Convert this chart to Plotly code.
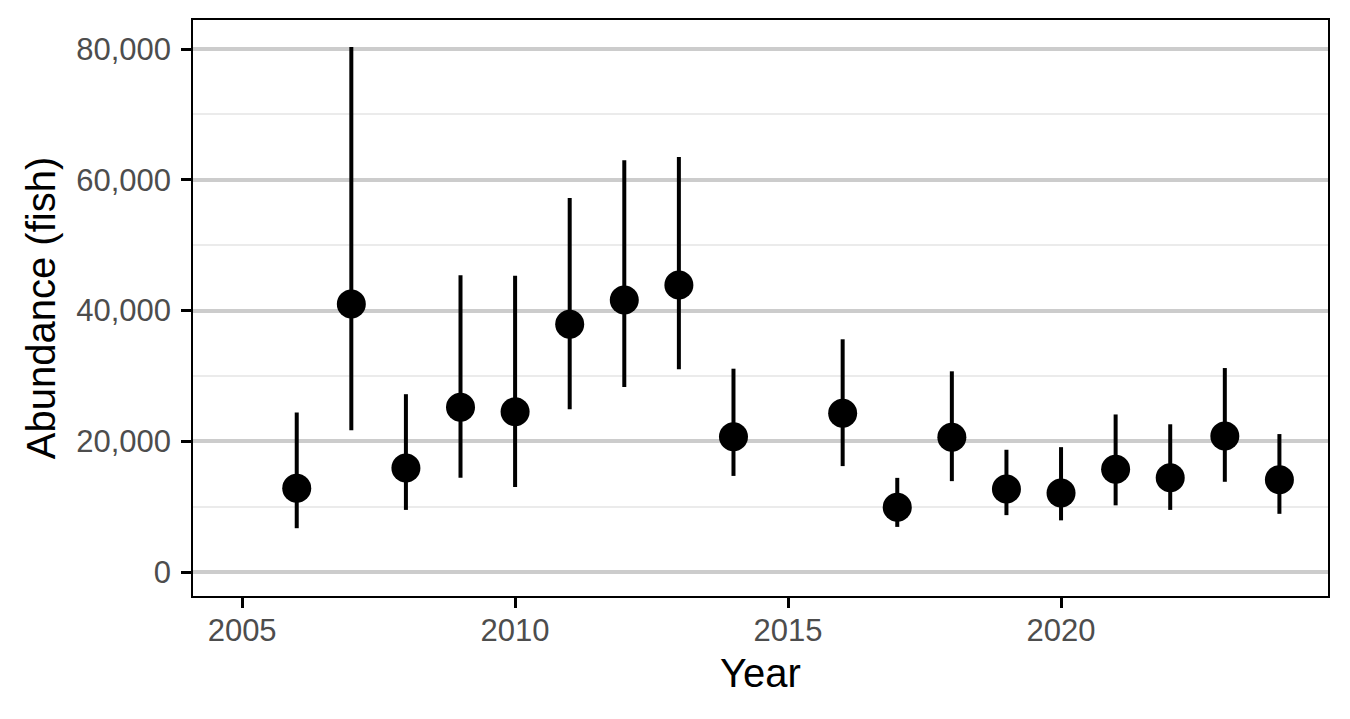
import plotly.graph_objects as go

years = [2006, 2007, 2008, 2009, 2010, 2011, 2012, 2013, 2014, 2016,
         2017, 2018, 2019, 2020, 2021, 2022, 2023, 2024]
abundance = [12800, 41000, 15900, 25200, 24500, 37900, 41600, 43900, 20700, 24300,
             9900, 20600, 12700, 12100, 15700, 14400, 20800, 14100]
upper = [24400, 80300, 27200, 45400, 45300, 57200, 63000, 63500, 31100, 35600,
         14400, 30700, 18700, 19100, 24100, 22600, 31200, 21100]
lower = [6700, 21700, 9500, 14400, 13000, 24900, 28300, 31000, 14700, 16200,
         6900, 13900, 8700, 7900, 10200, 9500, 13800, 8900]

err_plus = [u - a for u, a in zip(upper, abundance)]
err_minus = [a - l for a, l in zip(abundance, lower)]

fig = go.Figure()
fig.add_trace(go.Scatter(
    x=years, y=abundance, mode="markers",
    marker=dict(color="black", size=29, line=dict(width=0)),
    error_y=dict(type="data", symmetric=False, array=err_plus, arrayminus=err_minus,
                 color="black", thickness=4, width=0),
    showlegend=False,
))

fig.update_layout(
    width=1350, height=719,
    margin=dict(l=193, r=22, t=20, b=123),
    paper_bgcolor="white", plot_bgcolor="white",
    font=dict(family="Liberation Sans, Arial, sans-serif"),
    xaxis=dict(
        range=[2004.1, 2024.89],
        tickvals=[2005, 2010, 2015, 2020],
        ticktext=["2005", "2010", "2015", "2020"],
        showgrid=False, zeroline=False,
        showline=True, linecolor="black", linewidth=1.5, mirror=True,
        ticks="outside", ticklen=10, tickwidth=3, tickcolor="black",
        ticklabelstandoff=-4,
        tickfont=dict(size=31, color="#4d4d4d"),
        title=dict(text="Year", font=dict(size=40, color="black"), standoff=12),
    ),
    yaxis=dict(
        range=[-3670, 84440],
        tickvals=[0, 20000, 40000, 60000, 80000],
        ticktext=["0", "20,000", "40,000", "60,000", "80,000"],
        showgrid=True, gridcolor="#cccccc", gridwidth=3.5,
        zeroline=False,
        minor=dict(tickvals=[10000, 30000, 50000, 70000], showgrid=True,
                   gridcolor="#ebebeb", gridwidth=1.5, ticks=""),
        showline=True, linecolor="black", linewidth=1.5, mirror=True,
        ticks="outside", ticklen=10, tickwidth=3, tickcolor="black",
        ticklabelstandoff=4,
        tickfont=dict(size=31, color="#4d4d4d"),
        title=dict(text="Abundance (fish)", font=dict(size=40, color="black"), standoff=8),
    ),
)

fig.write_html("out.html")
